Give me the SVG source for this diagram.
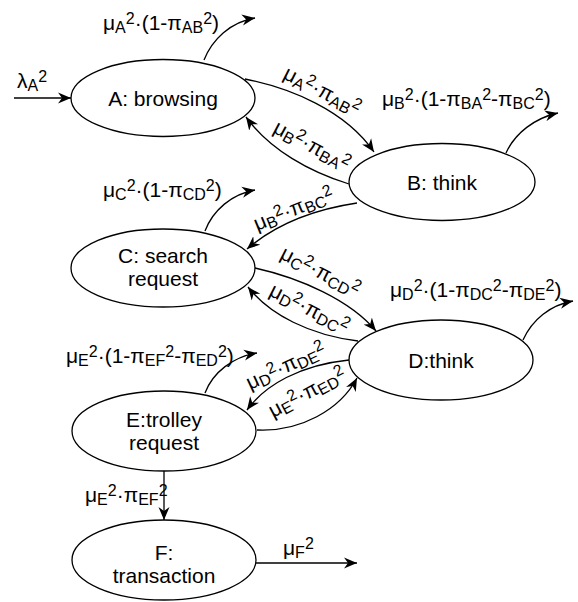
<svg xmlns="http://www.w3.org/2000/svg" width="578" height="602" viewBox="0 0 578 602">
<style>
.t{font-family:"Liberation Sans",Arial,sans-serif;font-size:21px;fill:#000}
.s{font-size:16px}
.n ellipse{fill:#fff;stroke:#000;stroke-width:1.3}
.n text{text-anchor:middle}
.c path{fill:none;stroke:#000;stroke-width:1.3;marker-end:url(#ah)}
</style>
<defs>
<marker id="ah" markerWidth="14" markerHeight="12" refX="13" refY="6" orient="auto" markerUnits="userSpaceOnUse">
<path d="M0,0.5 L13,6 L0,11.5 L4,6 Z" fill="#000"/>
</marker>
</defs>
<rect width="578" height="602" fill="#fff"/>
<g id="connectors" class="c">
<path d="M14,98 L71,98"/>
<path d="M204,60 C212,40 230,22 255,18"/>
<path d="M245,79 C290,88 345,110 374,152"/>
<path d="M349,184 C310,172 270,150 246,117"/>
<path d="M506,153 C515,133 535,118 558,113"/>
<path d="M357,203 C310,210 275,225 247,249"/>
<path d="M205,231 C213,210 232,194 255,190"/>
<path d="M255,268 C300,278 350,300 376,331"/>
<path d="M358,341 C310,335 270,315 248,287"/>
<path d="M523,340 C532,320 550,305 573,301"/>
<path d="M349,360 C300,365 265,385 247,410"/>
<path d="M257,430 C300,432 340,410 357,378"/>
<path d="M205,393 C213,372 233,357 257,353"/>
<path d="M164,471 L164,520"/>
<path d="M256,563 L357,563"/>
</g>
<g id="edge-labels" class="t">
<text x="17" y="88">λ<tspan class="s" dy="3">A</tspan><tspan class="s" dy="-9">2</tspan></text>
<text x="103" y="30">μ<tspan class="s" dy="3">A</tspan><tspan class="s" dy="-9">2</tspan><tspan dy="6">·(1-π</tspan><tspan class="s" dy="3">AB</tspan><tspan class="s" dy="-9">2</tspan><tspan dy="6">)</tspan></text>
<text x="382" y="106">μ<tspan class="s" dy="3">B</tspan><tspan class="s" dy="-9">2</tspan><tspan dy="6">·(1-π</tspan><tspan class="s" dy="3">BA</tspan><tspan class="s" dy="-9">2</tspan><tspan dy="6">-π</tspan><tspan class="s" dy="3">BC</tspan><tspan class="s" dy="-9">2</tspan><tspan dy="6">)</tspan></text>
<text x="103" y="197">μ<tspan class="s" dy="3">C</tspan><tspan class="s" dy="-9">2</tspan><tspan dy="6">·(1-π</tspan><tspan class="s" dy="3">CD</tspan><tspan class="s" dy="-9">2</tspan><tspan dy="6">)</tspan></text>
<text x="390" y="297">μ<tspan class="s" dy="3">D</tspan><tspan class="s" dy="-9">2</tspan><tspan dy="6">·(1-π</tspan><tspan class="s" dy="3">DC</tspan><tspan class="s" dy="-9">2</tspan><tspan dy="6">-π</tspan><tspan class="s" dy="3">DE</tspan><tspan class="s" dy="-9">2</tspan><tspan dy="6">)</tspan></text>
<text x="66" y="363">μ<tspan class="s" dy="3">E</tspan><tspan class="s" dy="-9">2</tspan><tspan dy="6">·(1-π</tspan><tspan class="s" dy="3">EF</tspan><tspan class="s" dy="-9">2</tspan><tspan dy="6">-π</tspan><tspan class="s" dy="3">ED</tspan><tspan class="s" dy="-9">2</tspan><tspan dy="6">)</tspan></text>
<text x="85" y="502">μ<tspan class="s" dy="3">E</tspan><tspan class="s" dy="-9">2</tspan><tspan dy="6">·π</tspan><tspan class="s" dy="3">EF</tspan><tspan class="s" dy="-9">2</tspan></text>
<text x="283" y="555">μ<tspan class="s" dy="3">F</tspan><tspan class="s" dy="-9">2</tspan></text>
<text transform="translate(282,78) rotate(27)">μ<tspan class="s" dy="3">A</tspan><tspan class="s" dy="-9">2</tspan><tspan dy="6">·π</tspan><tspan class="s" dy="3">AB</tspan><tspan class="s" dy="-9">2</tspan></text>
<text transform="translate(272,132) rotate(28)">μ<tspan class="s" dy="3">B</tspan><tspan class="s" dy="-9">2</tspan><tspan dy="6">·π</tspan><tspan class="s" dy="3">BA</tspan><tspan class="s" dy="-9">2</tspan></text>
<text transform="translate(257,231) rotate(-22)">μ<tspan class="s" dy="3">B</tspan><tspan class="s" dy="-9">2</tspan><tspan dy="6">·π</tspan><tspan class="s" dy="3">BC</tspan><tspan class="s" dy="-9">2</tspan></text>
<text transform="translate(279,258) rotate(27)">μ<tspan class="s" dy="3">C</tspan><tspan class="s" dy="-9">2</tspan><tspan dy="6">·π</tspan><tspan class="s" dy="3">CD</tspan><tspan class="s" dy="-9">2</tspan></text>
<text transform="translate(268,295) rotate(27)">μ<tspan class="s" dy="3">D</tspan><tspan class="s" dy="-9">2</tspan><tspan dy="6">·π</tspan><tspan class="s" dy="3">DC</tspan><tspan class="s" dy="-9">2</tspan></text>
<text transform="translate(250,390) rotate(-25)">μ<tspan class="s" dy="3">D</tspan><tspan class="s" dy="-9">2</tspan><tspan dy="6">·π</tspan><tspan class="s" dy="3">DE</tspan><tspan class="s" dy="-9">2</tspan></text>
<text transform="translate(273,418) rotate(-28)">μ<tspan class="s" dy="3">E</tspan><tspan class="s" dy="-9">2</tspan><tspan dy="6">·π</tspan><tspan class="s" dy="3">ED</tspan><tspan class="s" dy="-9">2</tspan></text>
</g>
<g id="A" class="n t"><ellipse cx="163" cy="98" rx="92" ry="38.5"/><text x="163" y="106">A: browsing</text></g>
<g id="B" class="n t"><ellipse cx="442" cy="182" rx="93" ry="38.5"/><text x="442" y="190">B: think</text></g>
<g id="C" class="n t"><ellipse cx="163" cy="268" rx="92" ry="39"/><text x="163" y="263">C: search</text><text x="163" y="286">request</text></g>
<g id="D" class="n t"><ellipse cx="441" cy="360" rx="92" ry="40"/><text x="441" y="368">D:think</text></g>
<g id="E" class="n t"><ellipse cx="164" cy="431" rx="92" ry="40"/><text x="164" y="427">E:trolley</text><text x="164" y="450">request</text></g>
<g id="F" class="n t"><ellipse cx="164" cy="560" rx="92" ry="40"/><text x="164" y="560">F:</text><text x="164" y="583">transaction</text></g>
</svg>
